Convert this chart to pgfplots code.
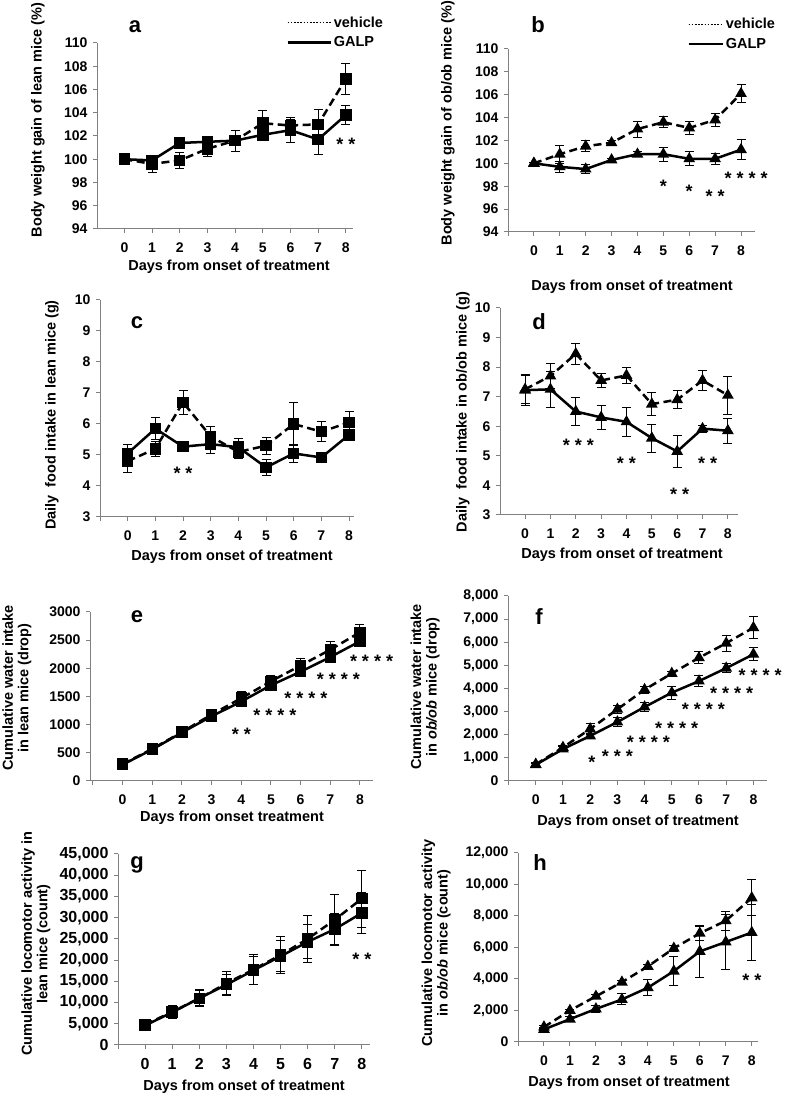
\documentclass[border=0pt]{standalone}
\usepackage{fontspec}
\setmainfont{Liberation Sans}
\usepackage{pgfplots}
\pgfplotsset{compat=1.18}
\usepackage{pgfplotstable}

% x = day, v/ve = vehicle mean/sem, g/ge = GALP mean/sem
\pgfplotstableread{
x v ve g ge
0 100.0 0.1 100.0 0.1
1 99.6 0.7 99.9 0.2
2 99.9 0.7 101.4 0.1
3 100.9 0.7 101.5 0.3
4 101.6 0.9 101.6 0.4
5 103.1 1.1 102.1 0.4
6 102.9 0.5 102.5 1.1
7 103.0 1.3 101.7 1.3
8 106.9 1.3 103.8 0.8
}\tA
\pgfplotstableread{
x v ve g ge
0 100.0 0.1 100.0 0.1
1 100.8 0.8 99.7 0.5
2 101.5 0.5 99.5 0.4
3 101.8 0.2 100.3 0.15
4 103.0 0.7 100.8 0.2
5 103.6 0.5 100.8 0.6
6 103.1 0.6 100.4 0.6
7 103.8 0.6 100.4 0.5
8 106.1 0.8 101.2 0.9
}\tB
\pgfplotstableread{
x v ve g ge
0 4.8 0.35 5.05 0.3
1 5.2 0.25 5.85 0.35
2 6.7 0.38 5.27 0.15
3 5.6 0.33 5.35 0.3
4 5.1 0.2 5.25 0.28
5 5.3 0.27 4.6 0.25
6 6.0 0.68 5.05 0.3
7 5.75 0.33 4.92 0.06
8 6.05 0.35 5.65 0.18
}\tC
\pgfplotstableread{
x v ve g ge
0 7.25 0.48 7.22 0.52
1 7.7 0.42 7.25 0.6
2 8.45 0.35 6.5 0.47
3 7.55 0.25 6.3 0.4
4 7.72 0.28 6.15 0.5
5 6.75 0.4 5.6 0.47
6 6.9 0.3 5.15 0.55
7 7.55 0.35 5.92 0.12
8 7.05 0.65 5.85 0.42
}\tD
\pgfplotstableread{
x v ve g ge
0 300 25 290 20
1 570 30 560 30
2 870 60 860 50
3 1180 90 1150 40
4 1470 110 1410 60
5 1770 110 1700 60
6 2050 130 1940 90
7 2330 150 2200 70
8 2640 140 2480 100
}\tE
\pgfplotstableread{
x v ve g ge
0 720 60 700 60
1 1450 100 1380 100
2 2250 220 1950 120
3 3100 160 2550 200
4 3950 150 3200 200
5 4650 100 3820 280
6 5330 250 4320 250
7 5960 350 4880 200
8 6630 480 5480 280
}\tF
\pgfplotstableread{
x v ve g ge
0 4800 800 4600 800
1 7800 1500 7700 1300
2 11000 2000 11000 1800
3 14500 2800 14200 2300
4 17800 3500 17600 3300
5 21200 4300 20900 3700
6 25000 5500 24300 4000
7 29500 6000 27300 3700
8 34500 6700 31100 4800
}\tG
\pgfplotstableread{
x v ve g ge
0 950 100 800 100
1 2000 80 1450 150
2 2900 100 2100 200
3 3800 100 2700 350
4 4800 100 3450 500
5 5950 200 4500 900
6 6900 450 5750 1650
7 7700 600 6350 1750
8 9150 1150 6950 1800
}\tH

\pgfplotsset{
  panel/.style={
    scale only axis,
    axis lines*=left,
    axis line style={draw=gray, line width=1pt},
    every tick/.style={draw=gray, line width=1pt},
    tick align=outside,
    major tick length=4pt,
    xtick={-1,0,...,8},
    xticklabels={{},0,1,2,3,4,5,6,7,8},
    tick label style={font=\fontsize{14}{14}\selectfont\bfseries},
    /pgf/number format/assume math mode=true,
    scaled y ticks=false,
    x tick label style={yshift=-6pt},
    y tick label style={xshift=-2pt},
    clip=false,
  },
  veh/.style={black, line width=2.5pt, dash pattern=on 8pt off 4.5pt,
    mark options={solid, fill=black}},
  galp/.style={black, line width=2.5pt, mark options={solid, fill=black}},
  sq/.style={mark=square*, mark size=4.5pt},
  tri/.style={mark=triangle*, mark size=4.3pt},
  eb/.style={error bars/y dir=both, error bars/y explicit,
    error bars/error bar style={solid, line width=1pt},
    error bars/error mark options={solid, rotate=90, mark size=4.5pt, line width=1pt}},
  leg/.style 2 args={legend style={draw=none, fill=none, anchor=north west,
      font=\fontsize{14.5}{14.5}\selectfont\bfseries, row sep=4pt,
      legend cell align=left},
    legend image code/.code={\draw[##1] (0pt,0pt) -- (#1,0pt);
      \path (0pt,0pt) -- (#2,0pt);}},
}
\tikzset{star/.style={font=\fontsize{18}{18}\selectfont\bfseries, yshift=-4pt, inner sep=1pt},
  lab/.style={font=\fontsize{14.5}{15.5}\selectfont\bfseries, align=center},
  let/.style={font=\fontsize{22}{22}\selectfont\bfseries}}

\begin{document}
\begin{tikzpicture}
\useasboundingbox (0pt,0pt) rectangle (787pt,1097pt);

% a
\begin{axis}[panel, leg={33pt}{43pt}, at={(97pt,868pt)}, anchor=south west, width=256pt, height=186pt,
  xmin=-0.99, xmax=8.26, ymin=94, ymax=110, ytick={94,96,...,110},
  legend style={at={(0.727,1.165)}}]
\addlegendimage{black, line width=1.3pt, dash pattern=on 1.6pt off 1.6pt}
\addlegendentry{vehicle}
\addlegendimage{black, line width=2.5pt}
\addlegendentry{GALP}
\addplot[veh, sq, eb, forget plot] table[x=x, y=v, y error=ve] {\tA};
\addplot[galp, sq, eb, forget plot] table[x=x, y=g, y error=ge] {\tA};
\node[star] at (axis cs:8,101.6) {* *};
\end{axis}

% b
\begin{axis}[panel, leg={26pt}{34pt}, at={(508pt,865pt)}, anchor=south west, width=247pt, height=183pt,
  xmin=-1, xmax=8.54, ymin=94, ymax=110, ytick={94,96,...,110},
  legend style={at={(0.713,1.19)}}]
\addlegendimage{black, line width=1.3pt, dash pattern=on 1.6pt off 1.6pt}
\addlegendentry{vehicle}
\addlegendimage{black, line width=2.5pt}
\addlegendentry{GALP}
\addplot[veh, tri, eb, forget plot] table[x=x, y=v, y error=ve] {\tB};
\addplot[galp, tri, eb, forget plot] table[x=x, y=g, y error=ge] {\tB};
\node[star] at (axis cs:5,98.3) {*};
\node[star] at (axis cs:6,97.9) {*};
\node[star] at (axis cs:7,97.5) {* *};
\node[star] at (axis cs:8.2,99.0) {* * * *};
\end{axis}

% c
\begin{axis}[panel, at={(100pt,580pt)}, anchor=south west, width=254pt, height=217pt,
  xmin=-1, xmax=8.18, ymin=3, ymax=10, ytick={3,...,10}]
\addplot[veh, sq, eb] table[x=x, y=v, y error=ve] {\tC};
\addplot[galp, sq, eb] table[x=x, y=g, y error=ge] {\tC};
\node[star] at (axis cs:2,4.55) {* *};
\end{axis}

% d
\begin{axis}[panel, at={(500pt,582pt)}, anchor=south west, width=238pt, height=207pt,
  xmin=-0.99, xmax=8.4, ymin=3, ymax=10, ytick={3,...,10}]
\addplot[veh, tri, eb] table[x=x, y=v, y error=ve] {\tD};
\addplot[galp, tri, eb] table[x=x, y=g, y error=ge] {\tD};
\node[star] at (axis cs:2.1,5.5) {* * *};
\node[star] at (axis cs:4,4.87) {* *};
\node[star] at (axis cs:6.1,3.85) {* *};
\node[star] at (axis cs:7.2,4.87) {* *};
\end{axis}

% e
\begin{axis}[panel, at={(90pt,316pt)}, anchor=south west, width=283pt, height=169pt,
  xmin=-1.1, xmax=8.44, ymin=0, ymax=3000, ytick={0,500,...,3000},
  yticklabel style={/pgf/number format/1000 sep={}}]
\addplot[veh, sq, eb] table[x=x, y=v, y error=ve] {\tE};
\addplot[galp, sq, eb] table[x=x, y=g, y error=ge] {\tE};
\node[star] at (axis cs:4,900) {* *};
\node[star] at (axis cs:5.13,1230) {* * * *};
\node[star] at (axis cs:6.18,1530) {* * * *};
\node[star] at (axis cs:7.27,1870) {* * * *};
\node[star] at (axis cs:8.39,2200) {* * * *};
\end{axis}

% f
\begin{axis}[panel, at={(508pt,316pt)}, anchor=south west, width=259pt, height=185pt,
  xmin=-1.02, xmax=8.5, ymin=0, ymax=8000, ytick={0,1000,...,8000},
  yticklabel style={/pgf/number format/1000 sep={,}}]
\addplot[veh, tri, eb] table[x=x, y=v, y error=ve] {\tF};
\addplot[galp, tri, eb] table[x=x, y=g, y error=ge] {\tF};
\node[star] at (axis cs:2.06,970) {*};
\node[star] at (axis cs:3.0,1230) {* * *};
\node[star] at (axis cs:4.14,1830) {* * * *};
\node[star] at (axis cs:5.18,2440) {* * * *};
\node[star] at (axis cs:6.16,3280) {* * * *};
\node[star] at (axis cs:7.2,3970) {* * * *};
\node[star] at (axis cs:8.25,4750) {* * * *};
\end{axis}

% g
\begin{axis}[panel, at={(118pt,52pt)}, anchor=south west, width=252pt, height=191pt,
  xmin=-1, xmax=8.3, ymin=0, ymax=45000, ytick={0,5000,...,45000},
  tick label style={font=\fontsize{16}{16}\selectfont\bfseries},
  yticklabel style={/pgf/number format/1000 sep={,}}]
\addplot[veh, sq, eb] table[x=x, y=v, y error=ve] {\tG};
\addplot[galp, sq, eb] table[x=x, y=g, y error=ge] {\tG};
\node[star] at (axis cs:8,21200) {* *};
\end{axis}

% h
\begin{axis}[panel, at={(518pt,55pt)}, anchor=south west, width=240pt, height=189pt,
  xmin=-1, xmax=8.24, ymin=0, ymax=12000, ytick={0,2000,...,12000},
  yticklabel style={/pgf/number format/1000 sep={,}}]
\addplot[veh, tri, eb] table[x=x, y=v, y error=ve] {\tH};
\addplot[galp, tri, eb] table[x=x, y=g, y error=ge] {\tH};
\node[star] at (axis cs:8,4200) {* *};
\end{axis}

% panel letters
\node[let] at (135pt,1070pt) {a};
\node[let] at (538pt,1072pt) {b};
\node[let] at (137pt,774pt) {c};
\node[let] at (539pt,775pt) {d};
\node[let] at (137pt,480pt) {e};
\node[let] at (539pt,480pt) {f};
\node[let] at (137pt,232pt) {g};
\node[let] at (540pt,234pt) {h};

% axis titles
\node[lab, rotate=90] at (38pt,977pt) {Body weight gain of lean mice (\%)};
\node[lab] at (229pt,830pt) {Days from onset of treatment};
\node[lab, rotate=90] at (448pt,974pt) {Body weight gain of ob/ob mice (\%)};
\node[lab] at (632pt,810pt) {Days from onset of treatment};
\node[lab, rotate=90] at (52pt,682pt) {Daily\ \ food intake in lean mice (g)};
\node[lab] at (232pt,540pt) {Days from onset of treatment};
\node[lab, rotate=90] at (463pt,685pt) {Daily\ \ food intake in ob/ob mice (g)};
\node[lab] at (622pt,542pt) {Days from onset of treatment};
\node[lab, rotate=90] at (17pt,409pt) {Cumulative water intake\\in lean mice (drop)};
\node[lab] at (232pt,279pt) {Days from onset treatment};
\node[lab, rotate=90] at (425pt,410pt) {Cumulative water intake\\in \textit{ob/ob} mice (drop)};
\node[lab] at (638pt,275pt) {Days from onset of treatment};
\node[lab, rotate=90] at (36pt,153pt) {Cumulative locomotor activity in\\lean mice (count)};
\node[lab] at (244pt,10pt) {Days from onset of treatment};
\node[lab, rotate=90] at (436pt,154pt) {Cumulative locomotor activity\\in \textit{ob/ob} mice (count)};
\node[lab] at (629pt,14pt) {Days from onset of treatment};
\end{tikzpicture}
\end{document}
